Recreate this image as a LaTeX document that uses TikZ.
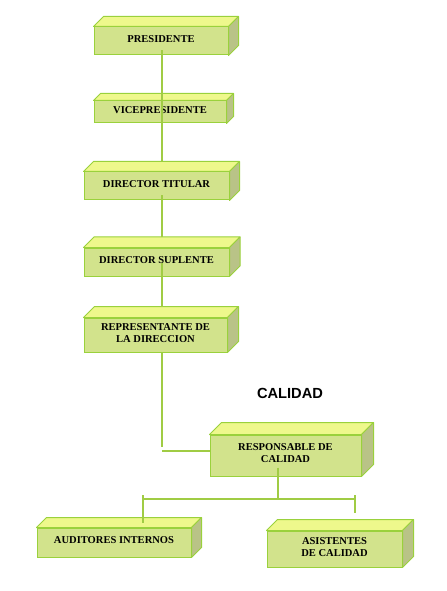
\documentclass[tikz,border=0pt]{standalone}
\usepackage{fontspec}
\setmainfont{Liberation Serif}
\newfontfamily\headfont{Liberation Sans}
\usetikzlibrary{
    calc,
    positioning
}
\definecolor{faceFront}{HTML}{D2E38C}
\definecolor{faceTop}{HTML}{EEF88C}
\definecolor{faceSide}{HTML}{B9C387}
\definecolor{edgeGreen}{HTML}{9AD13C}
\definecolor{linkGreen}{HTML}{A0CC44}
\tikzset{
    % --- Front face of a 3D block ---
    org block/.style = {
        rectangle, draw=edgeGreen, line width=0.75pt, fill=faceFront,
        inner sep=0pt, align=center, text depth=3pt,
        font=\fontsize{7.9}{9}\selectfont\bfseries
    },
    % --- Top and side faces ---
    top face/.style = {
        draw=edgeGreen, line width=0.75pt, fill=faceTop, line join=round
    },
    side face/.style = {
        draw=edgeGreen, line width=0.75pt, fill=faceSide, line join=round
    },
    % --- Connector line ---
    link/.style = {
        draw=linkGreen, line width=1.5pt
    },
    % --- Heading text ---
    title/.style = {
        font=\headfont\fontsize{11}{13}\selectfont\bfseries
    }
}
% faces of a block: node name, depth
\newcommand{\blockfaces}[2]{%
    \draw[top face] (#1.north west) -- ++(#2,#2)
        -- ($(#1.north east)+(#2,#2)$) -- (#1.north east) -- cycle;
    \draw[side face] (#1.north east) -- ++(#2,#2)
        -- ($(#1.south east)+(#2,#2)$) -- (#1.south east) -- cycle;
}

\begin{document}
\begin{tikzpicture}[x=0.75pt, y=-0.75pt]

\useasboundingbox (0,0) rectangle (446,591);

% ---------------------------------------------------------
% Chain of command
% ---------------------------------------------------------
\node[org block, minimum width=100.5pt, minimum height=21pt] (pres) at (161,41) {PRESIDENTE};
\node[org block, minimum width=99pt, minimum height=16.5pt] (vice) at (160,112) {VICEPRESIDENTE};
\node[org block, minimum width=108.75pt, minimum height=21pt] (dirtit) at (156.5,186) {DIRECTOR TITULAR};
\node[org block, minimum width=108.75pt, minimum height=21pt] (supl) at (156.5,262) {DIRECTOR SUPLENTE};
\node[org block, minimum width=107.25pt, minimum height=25.5pt] (rep) at (155.5,335) {REPRESENTANTE DE\\LA DIRECCION};

\blockfaces{pres}{7.5pt}
\blockfaces{vice}{5.25pt}
\blockfaces{dirtit}{7.5pt}
\blockfaces{supl}{7.9pt}
\blockfaces{rep}{8.25pt}

% ---------------------------------------------------------
% Quality area
% ---------------------------------------------------------
\node[title] (area) at (290,393) {CALIDAD};

\node[org block, minimum width=113.25pt, minimum height=30.75pt] (resp) at (285.5,455.5) {RESPONSABLE DE\\CALIDAD};
\node[org block, minimum width=115.5pt, minimum height=21.75pt] (aud) at (114,542.5) {AUDITORES INTERNOS};
\node[org block, minimum width=101.25pt, minimum height=27pt] (asis) at (334.5,549) {ASISTENTES\\DE CALIDAD};

\blockfaces{resp}{9pt}
\blockfaces{aud}{7.5pt}
\blockfaces{asis}{8.25pt}

% ---------------------------------------------------------
% Connectors
% ---------------------------------------------------------
\coordinate (spine) at (162,0);
\draw[link] ($(spine |- pres.south)+(0,-5)$) -- ($(spine |- dirtit.north)+(0,-10)$);
\draw[link] ($(spine |- dirtit.south)+(0,-5)$) -- ($(spine |- supl.north)+(0,-10)$);
\draw[link] ($(spine |- supl.center)+(0,1)$) -- ($(spine |- rep.north)+(0,-11)$);
\draw[link] (spine |- rep.south) -- ($(spine |- resp.west)+(0,-9)$);
\draw[link] ($(spine |- resp.west)+(0,-4.5)$) -- ($(resp.west)+(0,-4.5)$);

% split to the two teams
\coordinate (barL) at (143,499);
\coordinate (barR) at (355,499);
\draw[link] ($(resp.south)+(-7.5,-9)$) -- ($(resp.south)+(-7.5,23)$);
\draw[link] (barL) -- (barR);
\draw[link] ($(barL)+(0,-4)$) -- ($(barL |- aud.north)+(0,-5)$);
\draw[link] ($(barR)+(0,-4)$) -- ($(barR |- asis.north)+(0,-18)$);

\end{tikzpicture}
\end{document}
